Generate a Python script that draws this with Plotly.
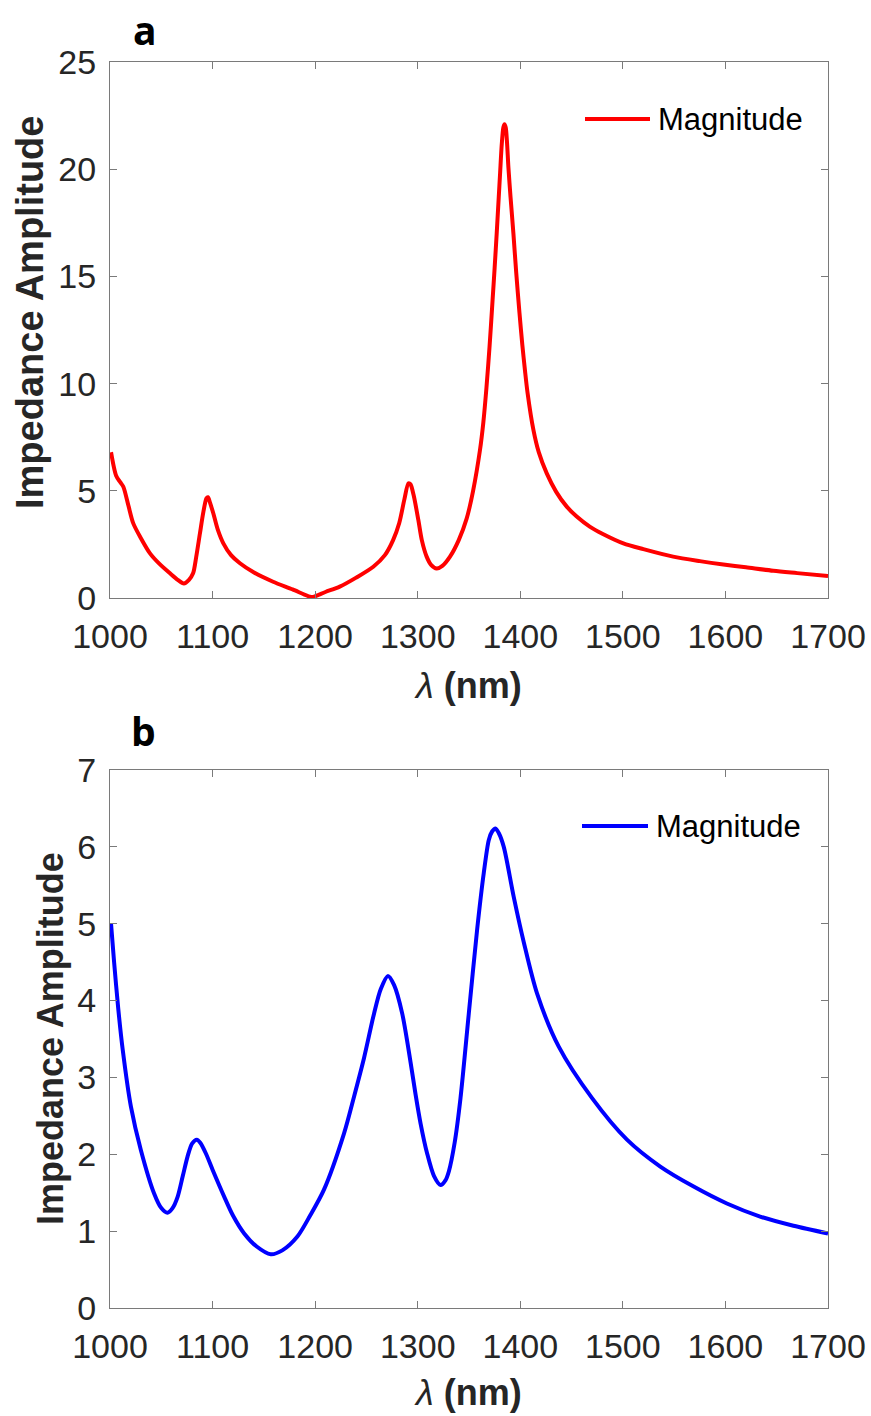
import plotly.graph_objects as go

# Panel a data (wavelength nm, impedance amplitude)
wl_a = [1001, 1006, 1010, 1013, 1018, 1022.7, 1030, 1039, 1048, 1058.5, 1066, 1072, 1077, 1081, 1084,
        1087.7, 1091, 1094, 1095.5, 1097.5, 1100.7, 1105, 1110.5, 1118, 1126.7, 1140, 1159, 1178, 1195,
        1198, 1210, 1224, 1240, 1256.7, 1268, 1276, 1282, 1287, 1291, 1293, 1296, 1300.6, 1304, 1308.7,
        1313, 1318.5, 1324, 1331.5, 1340, 1347.7, 1354, 1360.7, 1364, 1367, 1370, 1373, 1375, 1377,
        1379, 1380.3, 1382, 1383.5, 1384.6, 1385.8, 1387, 1388.4, 1390.5, 1393.3, 1396, 1399.2, 1402,
        1404.6, 1407, 1412.8, 1418, 1425.8, 1435, 1445.3, 1455, 1467.7, 1480, 1500.5, 1520, 1549, 1575,
        1598, 1620, 1646.7, 1670, 1700]
mag_a = [6.8, 5.7, 5.4, 5.19, 4.3, 3.48, 2.8, 2.08, 1.6, 1.15, 0.85, 0.68, 0.85, 1.15, 1.9,
         3.02, 4.0, 4.65, 4.7, 4.45, 3.95, 3.2, 2.55, 2.0, 1.62, 1.2, 0.76, 0.4, 0.06,
         0.05, 0.28, 0.53, 0.95, 1.46, 2.0, 2.7, 3.5, 4.6, 5.35, 5.3, 4.8, 3.64, 2.7, 1.93,
         1.55, 1.38, 1.5, 1.93, 2.7, 3.7, 5.0, 6.9, 8.2, 9.8, 11.7, 13.9, 15.4, 17.0,
         18.7, 19.8, 21.2, 21.95, 22.1, 21.95, 21.3, 20.1, 18.7, 17.0, 15.2, 13.3, 11.8,
         10.6, 9.6, 7.84, 6.8, 5.81, 4.95, 4.26, 3.8, 3.33, 3.0, 2.55, 2.28, 1.93, 1.72,
         1.56, 1.43, 1.27, 1.16, 1.02]

# Panel b data
wl_b = [1001, 1004, 1008, 1012.4, 1020.4, 1030, 1043, 1050, 1056, 1061, 1066, 1071, 1075.6, 1080,
        1084.7, 1088, 1093.5, 1100, 1111.3, 1120, 1130.8, 1143, 1156.7, 1168, 1182.7, 1195, 1208.6,
        1228.1, 1237.9, 1247.6, 1257.4, 1264, 1271, 1277, 1284.9, 1293, 1297.9, 1302.8, 1309, 1315.8,
        1322.3, 1327, 1330.4, 1336, 1341.7, 1349.8, 1357.9, 1364.4, 1369.3, 1372.5, 1375.8, 1379,
        1383.9, 1393.6, 1403.4, 1416.4, 1437.5, 1470, 1504, 1536.5, 1569, 1601.4, 1633.8, 1666.3, 1700]
mag_b = [5.0, 4.5, 3.9, 3.36, 2.62, 2.06, 1.49, 1.3, 1.24, 1.3, 1.45, 1.72, 1.97, 2.14,
         2.19, 2.15, 2.01, 1.8, 1.45, 1.2, 0.97, 0.8, 0.70, 0.75, 0.93, 1.2, 1.54,
         2.27, 2.75, 3.25, 3.83, 4.15, 4.32, 4.2, 3.83, 3.2, 2.78, 2.4, 2.02, 1.72,
         1.60, 1.66, 1.78, 2.15, 2.73, 3.83, 4.92, 5.66, 6.09, 6.2, 6.24, 6.18,
         6.0, 5.35, 4.76, 4.09, 3.40, 2.73, 2.19, 1.84, 1.58, 1.36, 1.19, 1.07, 0.97]

x_ticks = [1000, 1100, 1200, 1300, 1400, 1500, 1600, 1700]
y_ticks_a = [0, 5, 10, 15, 20, 25]
y_ticks_b = [0, 1, 2, 3, 4, 5, 6, 7]
legend_label = "Magnitude"

W, H = 871, 1416
L, R, T, B = 110, 828, 62, 1308   # plotting region in pixels
FONT = "Liberation Sans, Arial, sans-serif"
AXIS_COL = "#7a7a7a"
TXT_COL = "#262626"
RED, BLUE = "#ff0000", "#0000ff"


def px(x):
    return (x - L) / (R - L)


def py(y):
    return 1 - (y - T) / (B - T)


fig = go.Figure()
fig.add_trace(go.Scatter(x=wl_a, y=mag_a, mode="lines", name=legend_label, showlegend=False,
                         line=dict(color=RED, width=4, shape="spline", smoothing=0.8),
                         xaxis="x", yaxis="y"))
fig.add_trace(go.Scatter(x=wl_b, y=mag_b, mode="lines", name=legend_label, showlegend=False,
                         line=dict(color=BLUE, width=4, shape="spline", smoothing=0.8),
                         xaxis="x2", yaxis="y2"))

axis_common = dict(showline=True, linecolor=AXIS_COL, linewidth=1.3, mirror="ticks",
                   ticks="inside", ticklen=7, tickcolor=AXIS_COL, tickwidth=1.3,
                   showgrid=False, zeroline=False, automargin=False,
                   tickfont=dict(family=FONT, size=34, color=TXT_COL))

fig.update_layout(
    width=W, height=H,
    margin=dict(l=L, r=W - R, t=T, b=H - B, autoexpand=False),
    paper_bgcolor="white", plot_bgcolor="white",
    xaxis=dict(domain=[0, 1], range=[1000, 1700], tickvals=x_ticks, anchor="y",
               ticklabelstandoff=8, **axis_common),
    yaxis=dict(domain=[py(598), 1], range=[0, 25], tickvals=y_ticks_a, anchor="x",
               ticklabelstandoff=6, **axis_common),
    xaxis2=dict(domain=[0, 1], range=[1000, 1700], tickvals=x_ticks, anchor="y2",
                ticklabelstandoff=8, **axis_common),
    yaxis2=dict(domain=[0, py(770)], range=[0, 7], tickvals=y_ticks_b, anchor="x2",
                ticklabelstandoff=6, **axis_common),
    showlegend=False,
)

ann = []
shapes = []


def A(text, x, y, size, family=FONT, color=TXT_COL, angle=0, xanchor="center"):
    ann.append(dict(text=text, x=px(x), y=py(y), xref="paper", yref="paper",
                    xanchor=xanchor, yanchor="middle", textangle=angle, showarrow=False,
                    font=dict(family=family, size=size, color=color)))


# panel letters
A("<b>a</b>", 145, 30, 39, family="Open Sans, sans-serif", color="black")
A("<b>b</b>", 143, 730, 39, family="Open Sans, sans-serif", color="black")
# y titles
A("<b>Impedance Amplitude</b>", 30, 313, 38, angle=-90)
A("<b>Impedance Amplitude</b>", 50, 1039, 36, angle=-90)
# x titles
A("<i>λ</i> <b>(nm)</b>", 468, 685, 36)
A("<i>λ</i> <b>(nm)</b>", 468, 1392, 36)

# legends (line sample + label)
for (x0, x1, yy, col) in ((585, 650, 119, RED), (582, 648, 826, BLUE)):
    shapes.append(dict(type="line", xref="paper", yref="paper", x0=px(x0), x1=px(x1),
                       y0=py(yy), y1=py(yy), line=dict(color=col, width=4)))
    A(legend_label, x1 + 6, yy, 31, color="black", xanchor="left")

fig.update_layout(annotations=ann, shapes=shapes)

fig.write_html("out.html")
